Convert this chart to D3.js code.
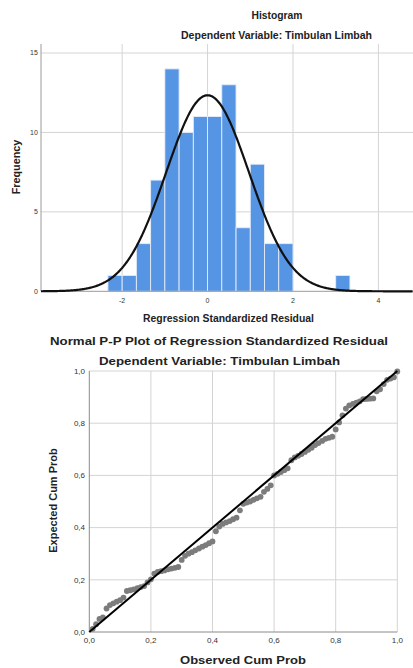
<!DOCTYPE html>
<html>
<head>
<meta charset="utf-8">
<script src="https://cdn.jsdelivr.net/npm/d3@7"></script>
<style>
  html, body { margin: 0; padding: 0; background: #fff; }
  svg { display: block; font-family: "Liberation Sans", Arial, sans-serif; }
</style>
</head>
<body>
<svg id="chart" width="413" height="668"></svg>
<script>
// histogram: bins of the standardized residual (width 1/3)
const binStarts = [-2.333, -2.0, -1.667, -1.333, -1.0, -0.667, -0.333, 0, 0.333, 0.667, 1.0, 1.333, 1.667, 3.0];
const binCounts = [1, 1, 3, 7, 14, 10, 11, 11, 13, 4, 8, 3, 3, 1];
const binWidth = 1 / 3;
const residMean = 0;
const residSd = 0.97;
const histXTicks = [-2, 0, 2, 4];
const histYTicks = [0, 5, 10, 15];

// normal P-P plot
const observedCum = [
  0.011, 0.022, 0.033, 0.044, 0.056, 0.067, 0.078, 0.089, 0.100, 0.111,
  0.122, 0.133, 0.144, 0.156, 0.167, 0.178, 0.189, 0.200, 0.211, 0.222,
  0.233, 0.244, 0.256, 0.267, 0.278, 0.289, 0.300, 0.311, 0.322, 0.333,
  0.344, 0.356, 0.367, 0.378, 0.389, 0.400, 0.411, 0.422, 0.433, 0.444,
  0.456, 0.467, 0.478, 0.489, 0.500, 0.511, 0.522, 0.533, 0.544, 0.556,
  0.567, 0.578, 0.589, 0.600, 0.611, 0.622, 0.633, 0.644, 0.656, 0.667,
  0.678, 0.689, 0.700, 0.711, 0.722, 0.733, 0.744, 0.756, 0.767, 0.778,
  0.789, 0.800, 0.811, 0.822, 0.833, 0.844, 0.856, 0.867, 0.878, 0.889,
  0.900, 0.911, 0.922, 0.933, 0.944, 0.956, 0.967, 0.978, 0.989, 1.000
];
const expectedCum = [
  0.012, 0.030, 0.050, 0.056, 0.090, 0.103, 0.110, 0.116, 0.122, 0.132,
  0.157, 0.160, 0.163, 0.168, 0.172, 0.176, 0.190, 0.202, 0.224, 0.230,
  0.233, 0.236, 0.240, 0.243, 0.246, 0.249, 0.276, 0.292, 0.300, 0.306,
  0.313, 0.320, 0.327, 0.333, 0.340, 0.347, 0.386, 0.404, 0.414, 0.420,
  0.425, 0.432, 0.438, 0.466, 0.491, 0.496, 0.500, 0.506, 0.512, 0.518,
  0.537, 0.548, 0.562, 0.600, 0.606, 0.613, 0.620, 0.627, 0.658, 0.669,
  0.675, 0.682, 0.690, 0.698, 0.706, 0.716, 0.724, 0.732, 0.740, 0.744,
  0.748, 0.776, 0.803, 0.830, 0.856, 0.868, 0.874, 0.879, 0.884, 0.892,
  0.893, 0.894, 0.895, 0.922, 0.930, 0.950, 0.966, 0.971, 0.976, 0.998
];
const ppTicks = [0, 0.2, 0.4, 0.6, 0.8, 1.0];

const svg = d3.select('#chart');
const gridColor = '#d4d4d4';
const axisColor = '#9a9a9a';
const comma = d3.formatLocale({ decimal: ',', thousands: '.', grouping: [3], currency: ['', ''] }).format('.1f');

drawHistogram(svg);
drawPP(svg);

function addText (svg, str, x, y, size, opts = {}) {
  const t = svg.append('text')
    .attr('x', x).attr('y', y)
    .attr('font-size', size)
    .attr('font-weight', opts.bold ? 'bold' : 'normal')
    .attr('fill', opts.fill || '#222')
    .attr('text-anchor', opts.anchor || 'middle')
    .text(str);
  if (opts.len) t.attr('textLength', opts.len).attr('lengthAdjust', 'spacingAndGlyphs');
  if (opts.rotate) t.attr('transform', `rotate(-90, ${x}, ${y})`);
  return t;
}

function drawHistogram (svg) {
  const x = d3.scaleLinear().domain([-3.9, 4.81]).range([41, 413]);
  const y = d3.scaleLinear().domain([0, 15]).range([291.3, 53]);
  const top = 44;
  const g = svg.append('g');

  // grid
  g.selectAll('.hv').data(histXTicks).join('line')
    .attr('x1', d => x(d)).attr('x2', d => x(d))
    .attr('y1', top).attr('y2', y(0))
    .attr('stroke', gridColor).attr('stroke-width', 1);
  g.selectAll('.hh').data(histYTicks.filter(d => d > 0)).join('line')
    .attr('x1', x.range()[0]).attr('x2', x.range()[1])
    .attr('y1', d => y(d)).attr('y2', d => y(d))
    .attr('stroke', gridColor).attr('stroke-width', 1);

  // bars
  g.selectAll('.bar').data(binStarts).join('rect')
    .attr('x', d => x(d))
    .attr('width', d => x(d + binWidth) - x(d))
    .attr('y', (d, i) => y(binCounts[i]))
    .attr('height', (d, i) => y(0) - y(binCounts[i]))
    .attr('fill', '#5694e4')
    .attr('stroke', '#e4ecf8')
    .attr('stroke-width', 0.9);

  // axes lines
  g.append('line').attr('x1', x.range()[0]).attr('x2', x.range()[0])
    .attr('y1', top).attr('y2', y(0)).attr('stroke', axisColor);
  g.append('line').attr('x1', x.range()[0]).attr('x2', x.range()[1])
    .attr('y1', y(0)).attr('y2', y(0)).attr('stroke', axisColor);

  // normal curve
  const total = d3.sum(binCounts);
  const pdf = v => Math.exp(-0.5 * ((v - residMean) / residSd) ** 2) / (residSd * Math.sqrt(2 * Math.PI));
  const xs = d3.range(x.domain()[0], x.domain()[1], 0.02);
  g.append('path')
    .datum(xs)
    .attr('d', d3.line().x(d => x(d)).y(d => y(total * binWidth * pdf(d))))
    .attr('fill', 'none')
    .attr('stroke', '#111')
    .attr('stroke-width', 2.2);

  // tick labels
  histXTicks.forEach(t => addText(g, t, x(t), 302.6, 7, { fill: '#333' }));
  histYTicks.forEach(t => addText(g, t, 37.8, y(t) + 2.4, 7, { fill: '#333', anchor: 'end' }));

  // titles
  addText(g, 'Histogram', 277, 19.2, 10.4, { bold: true, len: 51 });
  addText(g, 'Dependent Variable: Timbulan Limbah', 276.5, 39.2, 10.4, { bold: true, len: 191 });
  addText(g, 'Regression Standardized Residual', 228.5, 322.4, 10.4, { bold: true, len: 171 });
  addText(g, 'Frequency', 20, 167, 10.8, { bold: true, rotate: true });
}

function drawPP (svg) {
  const x = d3.scaleLinear().domain([0, 1]).range([89.3, 397.3]);
  const y = d3.scaleLinear().domain([0, 1]).range([632, 371]);
  const g = svg.append('g');

  // grid
  g.selectAll('.pv').data(ppTicks.slice(1)).join('line')
    .attr('x1', d => x(d)).attr('x2', d => x(d))
    .attr('y1', y(1)).attr('y2', y(0))
    .attr('stroke', gridColor).attr('stroke-width', 1);
  g.selectAll('.ph').data(ppTicks.slice(1)).join('line')
    .attr('x1', x(0)).attr('x2', x(1))
    .attr('y1', d => y(d)).attr('y2', d => y(d))
    .attr('stroke', gridColor).attr('stroke-width', 1);

  // axis lines
  g.append('line').attr('x1', x(0)).attr('x2', x(0))
    .attr('y1', y(1)).attr('y2', y(0)).attr('stroke', '#8a8a8a');
  g.append('line').attr('x1', x(0)).attr('x2', x(1))
    .attr('y1', y(0)).attr('y2', y(0)).attr('stroke', '#8a8a8a');

  // points
  g.selectAll('.pt').data(observedCum).join('circle')
    .attr('cx', d => x(d))
    .attr('cy', (d, i) => y(expectedCum[i]))
    .attr('r', 2.9)
    .attr('fill', '#7c7c7c');

  // reference diagonal
  g.append('line')
    .attr('x1', x(0)).attr('y1', y(0))
    .attr('x2', x(1)).attr('y2', y(1))
    .attr('stroke', '#000').attr('stroke-width', 2);

  // tick labels
  ppTicks.forEach(t => addText(g, comma(t), x(t), 642.5, 8, { fill: '#333' }));
  ppTicks.forEach(t => addText(g, comma(t), 85, y(t) + 2.8, 8, { fill: '#333', anchor: 'end' }));

  // titles
  addText(g, 'Normal P-P Plot of Regression Standardized Residual', 219, 344.5, 11.6, { bold: true, len: 338 });
  addText(g, 'Dependent Variable: Timbulan Limbah', 219.5, 365, 11.6, { bold: true, len: 241 });
  addText(g, 'Observed Cum Prob', 243, 664, 11.4, { bold: true, len: 126 });
  addText(g, 'Expected Cum Prob', 57, 500.5, 11, { bold: true, rotate: true });
}
</script>
</body>
</html>
